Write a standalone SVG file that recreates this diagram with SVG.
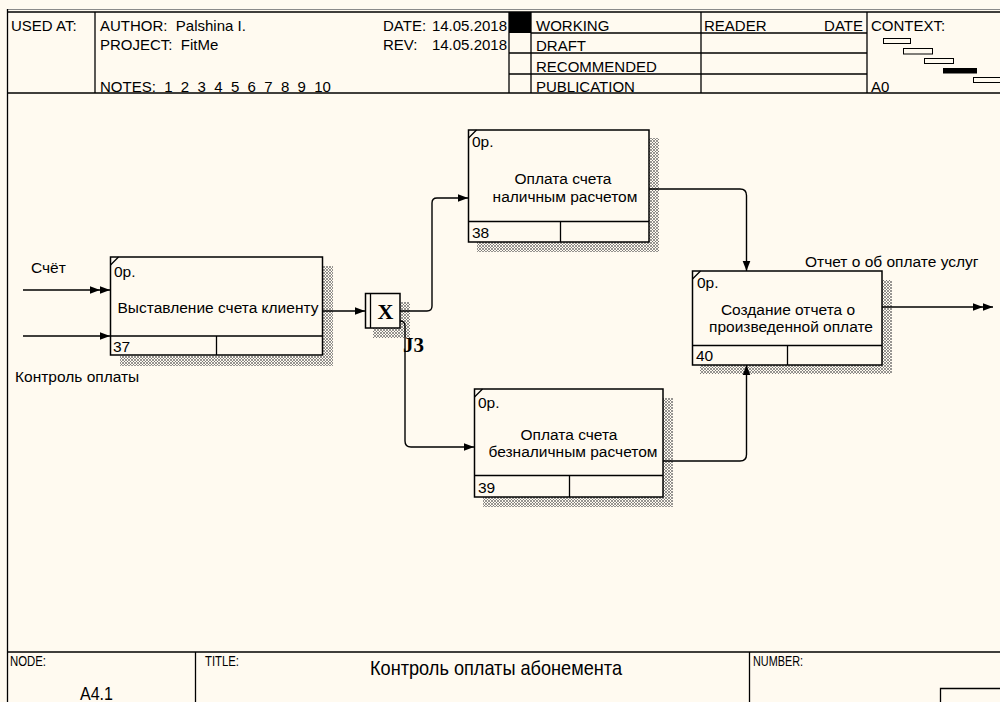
<svg xmlns="http://www.w3.org/2000/svg" width="1000" height="702" viewBox="0 0 1000 702">
<style>
  text { font-family: "Liberation Sans", Arial, sans-serif; font-size: 15px; fill: #000; }
  .pre { white-space: pre; }
  .lbl { font-size: 15.5px; }
  .narrow { font-family: "Liberation Sans Narrow", "Liberation Sans", Arial, sans-serif; font-size: 14px; }
  .title { font-size: 21px; }
  .nodeid { font-size: 18px; }
  .mid { text-anchor: middle; }
  .frame { fill: none; stroke: #000; stroke-width: 1.3; }
  .box { fill: #fffaf0; stroke: #000; stroke-width: 1.5; }
  .div { stroke: #000; stroke-width: 1.3; fill: none; }
  .shadow { fill: url(#hatch); stroke: none; }
  .conn { fill: none; stroke: #000; stroke-width: 1.4; }
  .jx { font-family: "Liberation Serif", "Times New Roman", serif; font-weight: bold; font-size: 22px; }
  .jl { font-family: "Liberation Serif", "Times New Roman", serif; font-weight: bold; font-size: 21px; }
</style>
<defs>
  <pattern id="hatch" width="3" height="3" patternUnits="userSpaceOnUse">
    <rect width="3" height="3" fill="#fffaf0"/>
    <path d="M0,3 L3,0 M0,0 L3,3" stroke="#6a6a6a" stroke-width="0.7"/>
  </pattern>
  <marker id="arr" markerUnits="userSpaceOnUse" markerWidth="12" markerHeight="10" viewBox="0 0 12 10" refX="11" refY="5" orient="auto">
    <path d="M1,1.2 L11,5 L1,8.8 Z" fill="#000"/>
  </marker>
  <marker id="arr2" markerUnits="userSpaceOnUse" markerWidth="22" markerHeight="10" viewBox="0 0 22 10" refX="21" refY="5" orient="auto">
    <path d="M1,1.2 L11,5 L1,8.8 Z M11,1.2 L21,5 L11,8.8 Z" fill="#000"/>
  </marker>
</defs>

<rect width="1000" height="702" fill="#fffaf0"/>

<g id="header">
  <line x1="7" y1="9.5" x2="1000" y2="9.5" stroke="#8a8a8a" stroke-width="1"/>
  <line x1="7" y1="12" x2="1000" y2="12" class="div"/>
  <line x1="7.5" y1="9" x2="7.5" y2="702" class="div"/>
  <line x1="7" y1="93" x2="1000" y2="93" class="div"/>
  <line x1="95" y1="12" x2="95" y2="93" class="div"/>
  <line x1="509" y1="12" x2="509" y2="93" class="div"/>
  <rect x="509" y="12" width="22" height="21" fill="#000"/>
  <line x1="531" y1="12" x2="531" y2="93" class="div"/>
  <line x1="701" y1="12" x2="701" y2="93" class="div"/>
  <line x1="867" y1="12" x2="867" y2="93" class="div"/>
  <line x1="531" y1="33" x2="867" y2="33" class="div"/>
  <line x1="509" y1="53" x2="867" y2="53" class="div"/>
  <line x1="509" y1="74" x2="867" y2="74" class="div"/>
  <text x="11" y="31">USED AT:</text>
  <text x="100" y="31" class="pre">AUTHOR:  Palshina I.</text>
  <text x="100" y="50" class="pre">PROJECT:  FitMe</text>
  <text x="100" y="92" class="pre">NOTES:  1  2  3  4  5  6  7  8  9  10</text>
  <text x="383" y="31">DATE:</text>
  <text x="507" y="31" text-anchor="end">14.05.2018</text>
  <text x="383" y="50">REV:</text>
  <text x="507" y="50" text-anchor="end">14.05.2018</text>
  <text x="536" y="31">WORKING</text>
  <text x="536" y="51">DRAFT</text>
  <text x="536" y="72">RECOMMENDED</text>
  <text x="536" y="92">PUBLICATION</text>
  <text x="704" y="31">READER</text>
  <text x="863" y="31" text-anchor="end">DATE</text>
  <text x="871" y="31">CONTEXT:</text>
  <text x="871" y="92">A0</text>
  <rect x="883.5" y="38.5" width="27" height="5" fill="none" stroke="#000" stroke-width="1"/>
  <rect x="903.5" y="48.5" width="29" height="5.5" fill="none" stroke="#000" stroke-width="1"/>
  <rect x="924.5" y="58.5" width="29" height="5" fill="none" stroke="#000" stroke-width="1"/>
  <rect x="943" y="68" width="34" height="5.5" fill="#000"/>
  <rect x="973.5" y="77.5" width="30" height="5" fill="none" stroke="#000" stroke-width="1"/>
</g>

<g id="footer">
  <line x1="7" y1="652" x2="1000" y2="652" class="div"/>
  <line x1="195.5" y1="652" x2="195.5" y2="702" class="div"/>
  <line x1="749.5" y1="652" x2="749.5" y2="702" class="div"/>
  <text x="10" y="666" class="narrow" textLength="36" lengthAdjust="spacingAndGlyphs">NODE:</text>
  <text x="205" y="666" class="narrow" textLength="34" lengthAdjust="spacingAndGlyphs">TITLE:</text>
  <text x="753" y="666" class="narrow" textLength="50" lengthAdjust="spacingAndGlyphs">NUMBER:</text>
  <text x="496" y="675" class="narrow title mid" textLength="252" lengthAdjust="spacingAndGlyphs">Контроль оплаты абонемента</text>
  <text x="80" y="700" class="narrow nodeid" textLength="33" lengthAdjust="spacingAndGlyphs">A4.1</text>
  <path d="M940.5,702 V688.5 H1000" class="div"/>
</g>

<g id="shadows">
  <path class="shadow" d="M323,266 H333 V366 H120 V356 H323 Z"/>
  <path class="shadow" d="M649,138 H659 V252 H477 V242 H649 Z"/>
  <path class="shadow" d="M663,398 H673 V507 H483 V497 H663 Z"/>
  <path class="shadow" d="M882,280 H892 V374 H700 V365 H882 Z"/>
  <path class="shadow" d="M400,302 H410 V338 H373 V328 H400 Z"/>
</g>

<g id="node-37">
  <rect class="box" x="110.5" y="257" width="212" height="98"/>
  <path class="div" d="M110.5,336 H322.5 M216.5,336 V355 M110.5,265 L118.5,257"/>
  <text x="114" y="277" class="lbl">0р.</text>
  <text x="218" y="313" class="lbl mid">Выставление счета клиенту</text>
  <text x="113" y="352" class="lbl">37</text>
</g>

<g id="node-38">
  <rect class="box" x="468.5" y="130" width="180.5" height="112"/>
  <path class="div" d="M468.5,221.5 H649 M560.5,221.5 V242 M468.5,138 L476.5,130"/>
  <text x="472" y="147" class="lbl">0р.</text>
  <text x="563" y="184" class="lbl mid">Оплата счета</text>
  <text x="565" y="202" class="lbl mid">наличным расчетом</text>
  <text x="472" y="238" class="lbl">38</text>
</g>

<g id="node-39">
  <rect class="box" x="474.5" y="389" width="188.5" height="108"/>
  <path class="div" d="M474.5,475.5 H663 M569.5,475.5 V497 M474.5,397 L482.5,389"/>
  <text x="478" y="408" class="lbl">0р.</text>
  <text x="569" y="440" class="lbl mid">Оплата счета</text>
  <text x="573" y="457" class="lbl mid">безналичным расчетом</text>
  <text x="478" y="493" class="lbl">39</text>
</g>

<g id="node-40">
  <rect class="box" x="692.5" y="271" width="189.5" height="94"/>
  <path class="div" d="M692.5,345.5 H882 M787.5,345.5 V365 M692.5,279 L700.5,271"/>
  <text x="697" y="288" class="lbl">0р.</text>
  <text x="788" y="315" class="lbl mid">Создание отчета о</text>
  <text x="791" y="332" class="lbl mid">произведенной оплате</text>
  <text x="696" y="361" class="lbl">40</text>
</g>

<g id="junction-J3">
  <rect class="box" x="365.5" y="293.5" width="34.5" height="34.5"/>
  <line x1="370.5" y1="293.5" x2="370.5" y2="328" class="div"/>
  <text x="385.5" y="319" class="jx mid">X</text>
  <text x="403" y="352" class="jl">J3</text>
</g>

<g id="connectors">
  <path class="conn" d="M23,290 H110" marker-end="url(#arr2)"/>
  <path class="conn" d="M23,336 H110" marker-end="url(#arr)"/>
  <path class="conn" d="M322.5,311 H365" marker-end="url(#arr)"/>
  <path class="conn" d="M400,311 H427 Q432,311 432,306 V203 Q432,198 437,198 H468" marker-end="url(#arr)"/>
  <path class="conn" d="M400,321 Q405,321 405,326 V441 Q405,447 411,447 H474" marker-end="url(#arr)"/>
  <path class="conn" d="M649,189 H740 Q746.5,189 746.5,195.5 V271" marker-end="url(#arr)"/>
  <path class="conn" d="M663,461 H740 Q746.5,461 746.5,454.5 V365" marker-end="url(#arr)"/>
  <path class="conn" d="M882,307 H993" marker-end="url(#arr2)"/>
  <text x="31" y="273" class="lbl">Счёт</text>
  <text x="15" y="382" class="lbl">Контроль оплаты</text>
  <text x="805" y="267" class="lbl">Отчет о об оплате услуг</text>
</g>
</svg>
